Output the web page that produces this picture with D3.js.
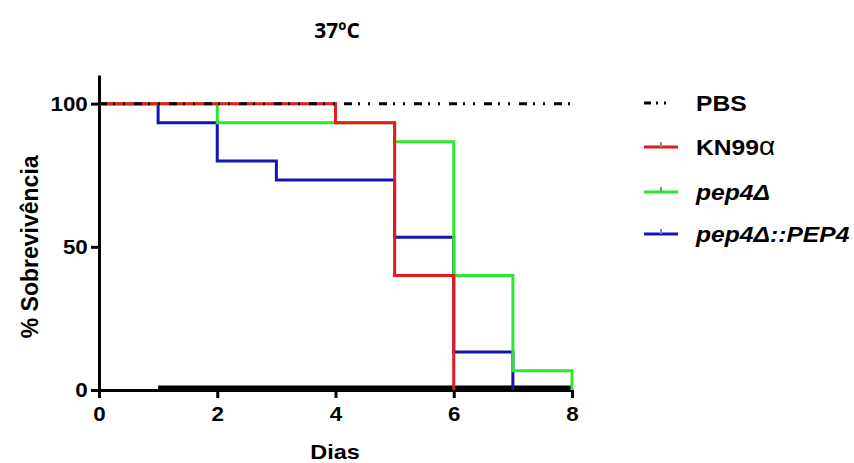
<!DOCTYPE html>
<html>
<head>
<meta charset="utf-8">
<script src="https://cdn.jsdelivr.net/npm/d3@7"></script>
<style>
  body { margin: 0; background: #fff; }
  svg text { font-family: "Liberation Sans", Arial, sans-serif; font-weight: bold; fill: #000; }
</style>
</head>
<body>
<svg id="chart" width="854" height="463" viewBox="0 0 854 463"></svg>
<script>
// survival curves (day, % surviving)
const pbsDays = [0, 8];
const pbsSurv = [100, 100];
const kn99Days = [0, 4, 5, 6];
const kn99Surv = [100, 93.3, 40, 0];
const pep4Days = [0, 2, 5, 6, 7, 8];
const pep4Surv = [100, 93.3, 86.7, 40, 6.7, 0];
const compDays = [0, 1, 2, 3, 5, 6, 7];
const compSurv = [100, 93.3, 80, 73.3, 53.3, 13.3, 0];
// thick black segment on the baseline
const baseDays = [1, 8];
const baseSurv = [0, 0];

const xTicks = [0, 2, 4, 6, 8];
const yTicks = [0, 50, 100];

const svg = d3.select("#chart");

const x = d3.scaleLinear().domain([0, 8]).range([99, 572]);
const y = d3.scaleLinear().domain([0, 110]).range([390, 75]);

const line = d3.line()
    .x(d => x(d[0]))
    .y(d => y(d[1]))
    .curve(d3.curveStepAfter);

const zip = (a, b) => a.map((v, i) => [v, b[i]]);

const series = [
    { name: "comp", pts: zip(compDays, compSurv), color: "#1414b4", dash: null },
    { name: "pep4", pts: zip(pep4Days, pep4Surv), color: "#2fe62f", dash: null },
    { name: "kn99", pts: zip(kn99Days, kn99Surv), color: "#e41b1b", dash: null },
    { name: "pbs", pts: zip(pbsDays, pbsSurv), color: "#000", dash: "8,6,2,8,2,9" }
];

// axes
const xAxis = svg.append("g")
    .attr("transform", `translate(0,${y(0)})`)
    .call(d3.axisBottom(x).tickValues(xTicks).tickSize(8).tickSizeOuter(0).tickPadding(9));
const yAxis = svg.append("g")
    .attr("transform", `translate(${x(0)},0)`)
    .call(d3.axisLeft(y).tickValues(yTicks).tickSize(8).tickSizeOuter(0).tickPadding(2));

[xAxis, yAxis].forEach(g => {
    g.select(".domain").attr("stroke", "#000").attr("stroke-width", 3);
    g.selectAll(".tick line").attr("stroke", "#000").attr("stroke-width", 3);
    g.selectAll(".tick text").attr("font-size", 20).attr("fill", "#000")
        .attr("transform", "scale(1.12,1)")
        .style("font-family", "'Liberation Sans', Arial, sans-serif").style("font-weight", "bold");
});

svg.append("path")
    .attr("d", line(zip(baseDays, baseSurv)))
    .attr("transform", "translate(0,-2)")
    .attr("fill", "none")
    .attr("stroke", "#000")
    .attr("stroke-width", 5);

series.forEach(s => {
    svg.append("path")
        .attr("d", line(s.pts))
        .attr("fill", "none")
        .attr("stroke", s.color)
        .attr("stroke-width", 3)
        .attr("stroke-dasharray", s.dash);
});

// titles
svg.append("text")
    .attr("x", 337).attr("y", 38)
    .attr("text-anchor", "middle")
    .attr("font-size", 21)
    .style("font-family", "'Open Sans', sans-serif")
    .text("37ºC");

svg.append("text")
    .attr("transform", "translate(335,459) scale(1.12,1)")
    .attr("text-anchor", "middle")
    .attr("font-size", 21)
    .text("Dias");

svg.append("text")
    .attr("transform", `translate(38,${y(50)}) rotate(-90)`)
    .attr("text-anchor", "middle")
    .attr("font-size", 23)
    .text("% Sobrevivência");

// legend
const legend = [
    { label: "PBS", color: "#000", dash: "7,5,2,6,2,20", italic: false, y: 103 },
    { label: "KN99", sym: "α", color: "#e41b1b", italic: false, y: 147 },
    { label: "pep4Δ", color: "#2fe62f", italic: true, y: 192 },
    { label: "pep4Δ::PEP4", color: "#1414b4", italic: true, y: 234 }
];

const lg = svg.append("g");
legend.forEach(d => {
    lg.append("line")
        .attr("x1", 644).attr("x2", 678)
        .attr("y1", d.y).attr("y2", d.y)
        .attr("stroke", d.color)
        .attr("stroke-width", 3)
        .attr("stroke-dasharray", d.dash || null);
    if (!d.dash) {
        lg.append("line")
            .attr("x1", 661).attr("x2", 661)
            .attr("y1", d.y - 5).attr("y2", d.y)
            .attr("stroke", "#888")
            .attr("stroke-width", 2);
    }
    const t = lg.append("text")
        .attr("transform", `translate(696,${d.y + 8}) scale(1.12,1)`)
        .attr("font-size", 22)
        .style("font-style", d.italic ? "italic" : "normal")
        .text(d.label);
    if (d.sym) {
        t.append("tspan").attr("font-size", 25).style("font-weight", "normal").text(d.sym);
    }
});
</script>
</body>
</html>
